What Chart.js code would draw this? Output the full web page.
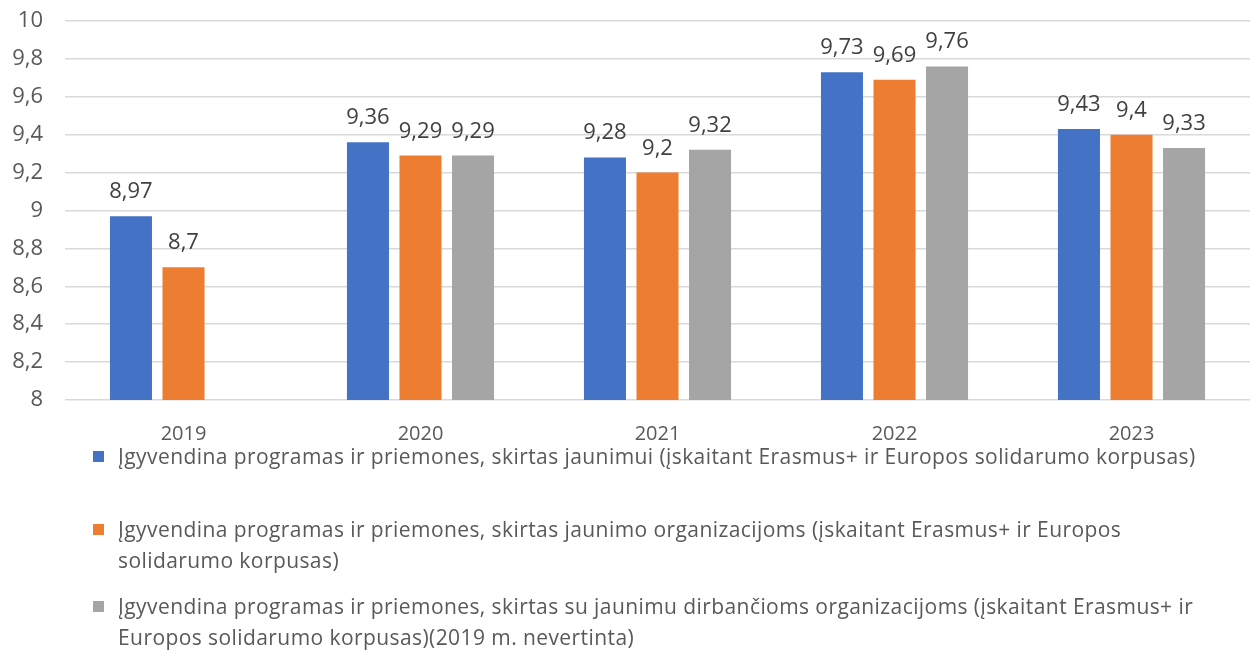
<!DOCTYPE html>
<html>
<head>
<meta charset="utf-8">
<script src="https://cdn.jsdelivr.net/npm/chart.js@4/dist/chart.umd.min.js"></script>
<style>
  html, body { margin: 0; padding: 0; background: #fff; }
  #wrap { position: relative; width: 1250px; height: 655px; }
  #c { position: absolute; left: 0; top: 0; }
  #legend { position: absolute; left: 93px; top: 441px; width: 1115px; font-family: "Open Sans", sans-serif; font-size: 21px; letter-spacing: 0.42px; color: #595959; }
  .item { position: relative; padding-left: 25px; line-height: 31px; }
  .box { position: absolute; left: 0; top: 10px; width: 11px; height: 11px; }
</style>
</head>
<body>
<div id="wrap">
  <canvas id="c" width="1250" height="655"></canvas>
  <div id="legend"></div>
</div>
<script>
const categories = ["2019", "2020", "2021", "2022", "2023"];
const seriesNames = [
  "Įgyvendina programas ir priemones, skirtas jaunimui (įskaitant Erasmus+ ir Europos solidarumo korpusas)",
  "Įgyvendina programas ir priemones, skirtas jaunimo organizacijoms (įskaitant Erasmus+ ir Europos solidarumo korpusas)",
  "Įgyvendina programas ir priemones, skirtas su jaunimu dirbančioms organizacijoms (įskaitant Erasmus+ ir Europos solidarumo korpusas)(2019 m. nevertinta)"
];
const youthValues = [8.97, 9.36, 9.28, 9.73, 9.43];
const orgValues = [8.7, 9.29, 9.2, 9.69, 9.4];
const workerOrgValues = [null, 9.29, 9.32, 9.76, 9.33];
const yTicks = [8, 8.2, 8.4, 8.6, 8.8, 9, 9.2, 9.4, 9.6, 9.8, 10];
const colors = ["#4472C4", "#ED7D31", "#A5A5A5"];

const fmt = v => String(v).replace('.', ',');

const valueLabels = {
  id: 'valueLabels',
  afterDatasetsDraw(chart) {
    const ctx = chart.ctx;
    ctx.save();
    ctx.font = '22px "Open Sans", sans-serif';
    ctx.fillStyle = '#404040';
    ctx.textAlign = 'center';
    ctx.textBaseline = 'alphabetic';
    chart.data.datasets.forEach((ds, i) => {
      const meta = chart.getDatasetMeta(i);
      meta.data.forEach((bar, j) => {
        const v = ds.data[j];
        if (v === null || v === undefined) return;
        ctx.fillText(fmt(v), bar.x, bar.y - 18);
      });
    });
    ctx.restore();
  }
};

const chart = new Chart(document.getElementById('c'), {
  type: 'bar',
  data: {
    labels: categories,
    datasets: [
      { label: seriesNames[0], data: youthValues, backgroundColor: colors[0] },
      { label: seriesNames[1], data: orgValues, backgroundColor: colors[1] },
      { label: seriesNames[2], data: workerOrgValues, backgroundColor: colors[2] }
    ]
  },
  options: {
    responsive: false,
    animation: false,
    devicePixelRatio: 1,
    layout: { padding: { top: 21, right: 0, left: 0, bottom: 205 } },
    datasets: { bar: { categoryPercentage: 0.665, barPercentage: 0.8 } },
    plugins: {
      legend: { display: false },
      tooltip: { enabled: false }
    },
    scales: {
      x: {
        grid: { display: false, drawTicks: false },
        border: { display: false },
        ticks: { color: '#595959', font: { size: 20, family: '"Open Sans", sans-serif' }, padding: 22 },
        afterFit(s) { s.height = 50; s.paddingLeft = 0; s.paddingRight = 0; }
      },
      y: {
        min: 8, max: 10,
        afterBuildTicks(s) { s.ticks = yTicks.map(v => ({ value: v })); },
        afterFit(s) { s.width = 65; s.paddingTop = 0; s.paddingBottom = 0; },
        grid: { color: '#d9d9d9', lineWidth: 1.5, drawTicks: false },
        border: { display: false },
        ticks: { color: '#595959', font: { size: 22, family: '"Open Sans", sans-serif' }, padding: 22, callback: v => fmt(Math.round(v * 10) / 10) }
      }
    }
  },
  plugins: [valueLabels]
});

const legend = document.getElementById('legend');
const gaps = [0, 42, 15];
chart.data.datasets.forEach((ds, i) => {
  const div = document.createElement('div');
  div.className = 'item';
  div.style.marginTop = gaps[i] + 'px';
  const box = document.createElement('span');
  box.className = 'box';
  box.style.background = ds.backgroundColor;
  div.appendChild(box);
  div.appendChild(document.createTextNode(ds.label));
  legend.appendChild(div);
});
</script>
</body>
</html>
